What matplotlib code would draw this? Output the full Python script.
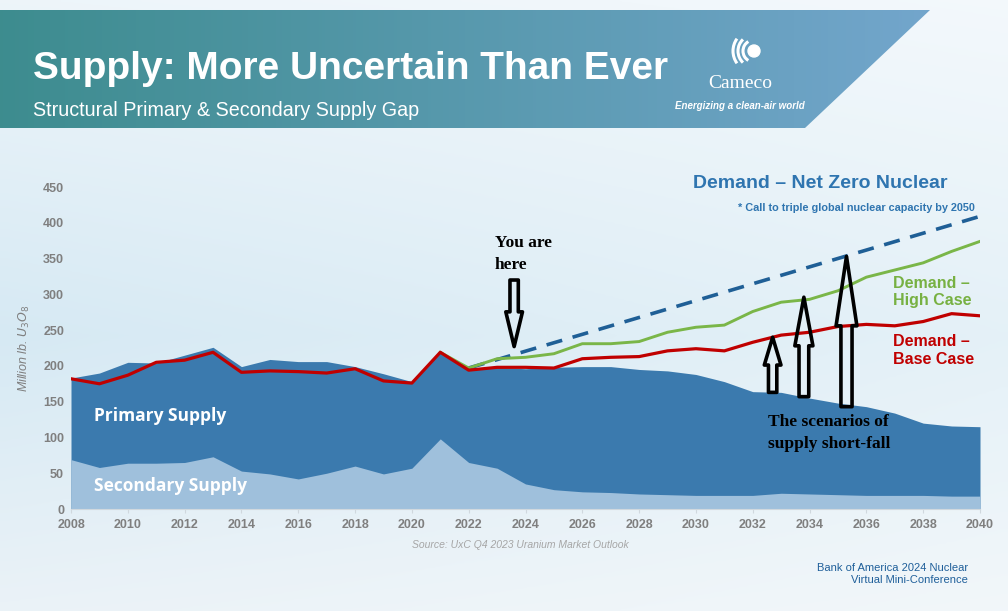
import matplotlib
matplotlib.use('Agg')
import matplotlib.pyplot as plt
import numpy as np
from matplotlib.patches import Polygon, Ellipse, Arc

# data (million lb U3O8)
years = list(range(2008, 2041))
total_supply = [183, 190, 205, 204, 215, 226, 199, 209, 206, 206, 199, 189, 178, 220, 197,
                198, 196, 198, 199, 199, 195, 193, 188, 178, 164, 163, 155, 148, 143, 134,
                120, 116, 115]
secondary_supply = [69, 58, 64, 64, 65, 73, 53, 49, 42, 50, 60, 49, 57, 98, 65,
                    57, 35, 27, 24, 23, 21, 20, 19, 19, 19, 22, 21, 20, 19, 19,
                    19, 18, 18]
base_case = [182, 175, 187, 205, 208, 219, 191, 193, 192, 190, 196, 179, 176, 219, 194,
             198, 198, 197, 210, 212, 213, 221, 224, 221, 233, 243, 247, 255, 258, 256,
             262, 273, 270]
high_years = list(range(2021, 2041))
high_case = [219, 197, 210, 212, 217, 231, 231, 234, 247, 254, 257, 276, 289, 293, 305,
             324, 334, 344, 360, 374]
netzero_years = [2022, 2040]
netzero = [197, 409]

yticks = [0, 50, 100, 150, 200, 250, 300, 350, 400, 450]
xticks = list(range(2008, 2041, 2))

# arrows: (year, start value, end value)
you_are_here = (2023.6, 320, 227)
shortfall_arrows = [(2032.7, 163, 240), (2033.8, 157, 296), (2035.3, 143, 353)]

W, H = 1008, 611
fig = plt.figure(figsize=(W / 100, H / 100), dpi=100)

def fx(px):
    return px / W

def fy(py):
    return 1 - py / H

# background: pale sky gradient
bg = fig.add_axes([0, 0, 1, 1], zorder=-10)
bg.set_axis_off()
grad = np.linspace(0, 1, 256)[:, None]
c_top = np.array([0.93, 0.96, 0.98])
c_mid = np.array([0.84, 0.915, 0.955])
c_bot = np.array([0.92, 0.95, 0.97])
img = np.where(grad < 0.55,
               c_top + (c_mid - c_top) * (grad / 0.55),
               c_mid + (c_bot - c_mid) * ((grad - 0.55) / 0.45))
img = np.repeat(img[:, None, :], 2, axis=1).reshape(256, 2, 3)
img = np.tile(img, (1, 50, 1))
# lighten right side a bit (clouds)
xs = np.linspace(0, 1, img.shape[1])[None, :, None]
img = img + (1 - img) * 0.35 * xs
bg.imshow(img, extent=[0, 1, 0, 1], aspect='auto', transform=bg.transAxes)
bg.set_xlim(0, 1)
bg.set_ylim(0, 1)

# title banner with teal-to-blue gradient
banner_pts = [(fx(0), fy(10)), (fx(930), fy(10)), (fx(805), fy(128)), (fx(0), fy(128))]
banner = Polygon(banner_pts, closed=True, transform=bg.transAxes, facecolor='none', edgecolor='none')
bg.add_patch(banner)
hx = np.linspace(0, 1, 300)[None, :, None]
c_left = np.array([0.24, 0.55, 0.56])
c_right = np.array([0.45, 0.65, 0.80])
bimg = c_left + (c_right - c_left) * hx
bimg = np.repeat(bimg, 4, axis=0)
bim = bg.imshow(bimg, extent=[0, fx(930), fy(128), fy(10)], aspect='auto', zorder=1)
bim.set_clip_path(banner)

fig.text(fx(33), fy(69), 'Supply: More Uncertain Than Ever', color='white',
         fontsize=28, fontweight='bold', family='Liberation Sans', va='center')
fig.text(fx(33), fy(111), 'Structural Primary & Secondary Supply Gap', color='white',
         fontsize=14.2, family='Liberation Sans', va='center')

# Cameco logo (rough)
cx, cy = fx(754), fy(51)
bg.add_patch(Ellipse((cx, cy), 12 / W, 12 / H, transform=bg.transAxes, color='white', zorder=3))
for r, t1, t2 in [(11, 110, 250), (16, 120, 240), (21, 130, 230)]:
    bg.add_patch(Arc((cx, cy), 2 * r / W, 2 * r / H, theta1=t1, theta2=t2,
                     transform=bg.transAxes, color='white', lw=2.2, zorder=3))
fig.text(fx(740), fy(84), 'Cameco', color='white', fontsize=14, family='Liberation Serif',
         ha='center', va='center')
fig.text(fx(740), fy(106), 'Energizing a clean-air world', color='white', fontsize=7,
         fontweight='bold', style='italic', family='Liberation Sans', ha='center', va='center')

# main chart
ax = fig.add_axes([fx(71), fy(509), (980 - 71) / W, (509 - 187) / H])
ax.patch.set_alpha(0)
ax.fill_between(years, 0, total_supply, color='#3b7aae', lw=0, zorder=1)
ax.fill_between(years, 0, secondary_supply, color='#9fc0dc', lw=0, zorder=2)
ax.plot(netzero_years, netzero, color='#1f5f96', lw=2.6, ls=(0, (4.5, 3)), zorder=3)
ax.plot(high_years, high_case, color='#7ab648', lw=2.1, zorder=4)
ax.plot(years, base_case, color='#c00000', lw=2.3, zorder=5)

ax.set_xlim(2008, 2040)
ax.set_ylim(0, 450)
ax.set_xticks(xticks)
ax.set_yticks(yticks)
ax.tick_params(axis='both', length=0, labelsize=9, labelcolor='#7f7f7f', pad=5)
ax.tick_params(axis='x', length=3, color='#d0d8de', pad=4)
for lab in ax.get_xticklabels() + ax.get_yticklabels():
    lab.set_fontweight('bold')
    lab.set_family('Liberation Sans')
for s in ['top', 'right', 'left']:
    ax.spines[s].set_visible(False)
ax.spines['bottom'].set_color('#d0d8de')
ax.set_ylabel(r'Million lb. $U_3O_8$', fontsize=9, color='#7f7f7f', style='italic',
              family='Liberation Sans', labelpad=8)
ax.yaxis.label.set_math_fontfamily('dejavusans')

ax.text(2008.8, 130, 'Primary Supply', color='white', fontsize=12.5, fontweight='bold',
        family='Open Sans', va='center')
ax.text(2008.8, 32, 'Secondary Supply', color='white', fontsize=12.5, fontweight='bold',
        family='Open Sans', va='center')

fig.text(fx(693), fy(184), 'Demand \u2013 Net Zero Nuclear', color='#2f75b0', fontsize=14,
         fontweight='bold', family='Liberation Sans', va='center')
fig.text(fx(975), fy(208), '* Call to triple global nuclear capacity by 2050', color='#2f75b0',
         fontsize=7.8, fontweight='bold', family='Liberation Sans', ha='right', va='center')
fig.text(fx(893), fy(292), 'Demand \u2013\nHigh Case', color='#77b142', fontsize=11.5,
         fontweight='bold', family='Liberation Sans', va='center', linespacing=1.25)
fig.text(fx(893), fy(350), 'Demand \u2013\nBase Case', color='#c00000', fontsize=11.5,
         fontweight='bold', family='Liberation Sans', va='center', linespacing=1.25)

# hand-drawn style annotations
fig.text(fx(495), fy(254), 'You are\nhere', color='black', fontsize=12.5, fontweight='bold',
         family='Liberation Serif', va='center', linespacing=1.45)
fig.text(fx(768), fy(433), 'The scenarios of\nsupply short-fall', color='black', fontsize=12.5,
         fontweight='bold', family='Liberation Serif', va='center', linespacing=1.45)

def hollow_arrow(x, y0, y1, hl, hw, tw):
    ax.annotate('', xy=(x, y1), xytext=(x, y0),
                arrowprops=dict(arrowstyle='simple,head_length=%g,head_width=%g,tail_width=%g' % (hl, hw, tw),
                                mutation_scale=1, fc='none', ec='black', lw=2.6,
                                shrinkA=0, shrinkB=0),
                zorder=8, annotation_clip=False)

hollow_arrow(you_are_here[0], you_are_here[1], you_are_here[2], 25, 12, 6)
hollow_arrow(shortfall_arrows[0][0], shortfall_arrows[0][1], shortfall_arrows[0][2], 20, 12, 6)
hollow_arrow(shortfall_arrows[1][0], shortfall_arrows[1][1], shortfall_arrows[1][2], 35, 13, 7)
hollow_arrow(shortfall_arrows[2][0], shortfall_arrows[2][1], shortfall_arrows[2][2], 50, 15, 8)

fig.text(fx(520), fy(545), 'Source: UxC Q4 2023 Uranium Market Outlook', color='#a6a6a6',
         fontsize=7.5, style='italic', family='Liberation Sans', ha='center', va='center')
fig.text(fx(968), fy(574), 'Bank of America 2024 Nuclear\nVirtual Mini-Conference', color='#1f5f9a',
         fontsize=8, family='Liberation Sans', ha='right', va='center', multialignment='right',
         linespacing=1.15)

fig.savefig('out.png', dpi=100)
